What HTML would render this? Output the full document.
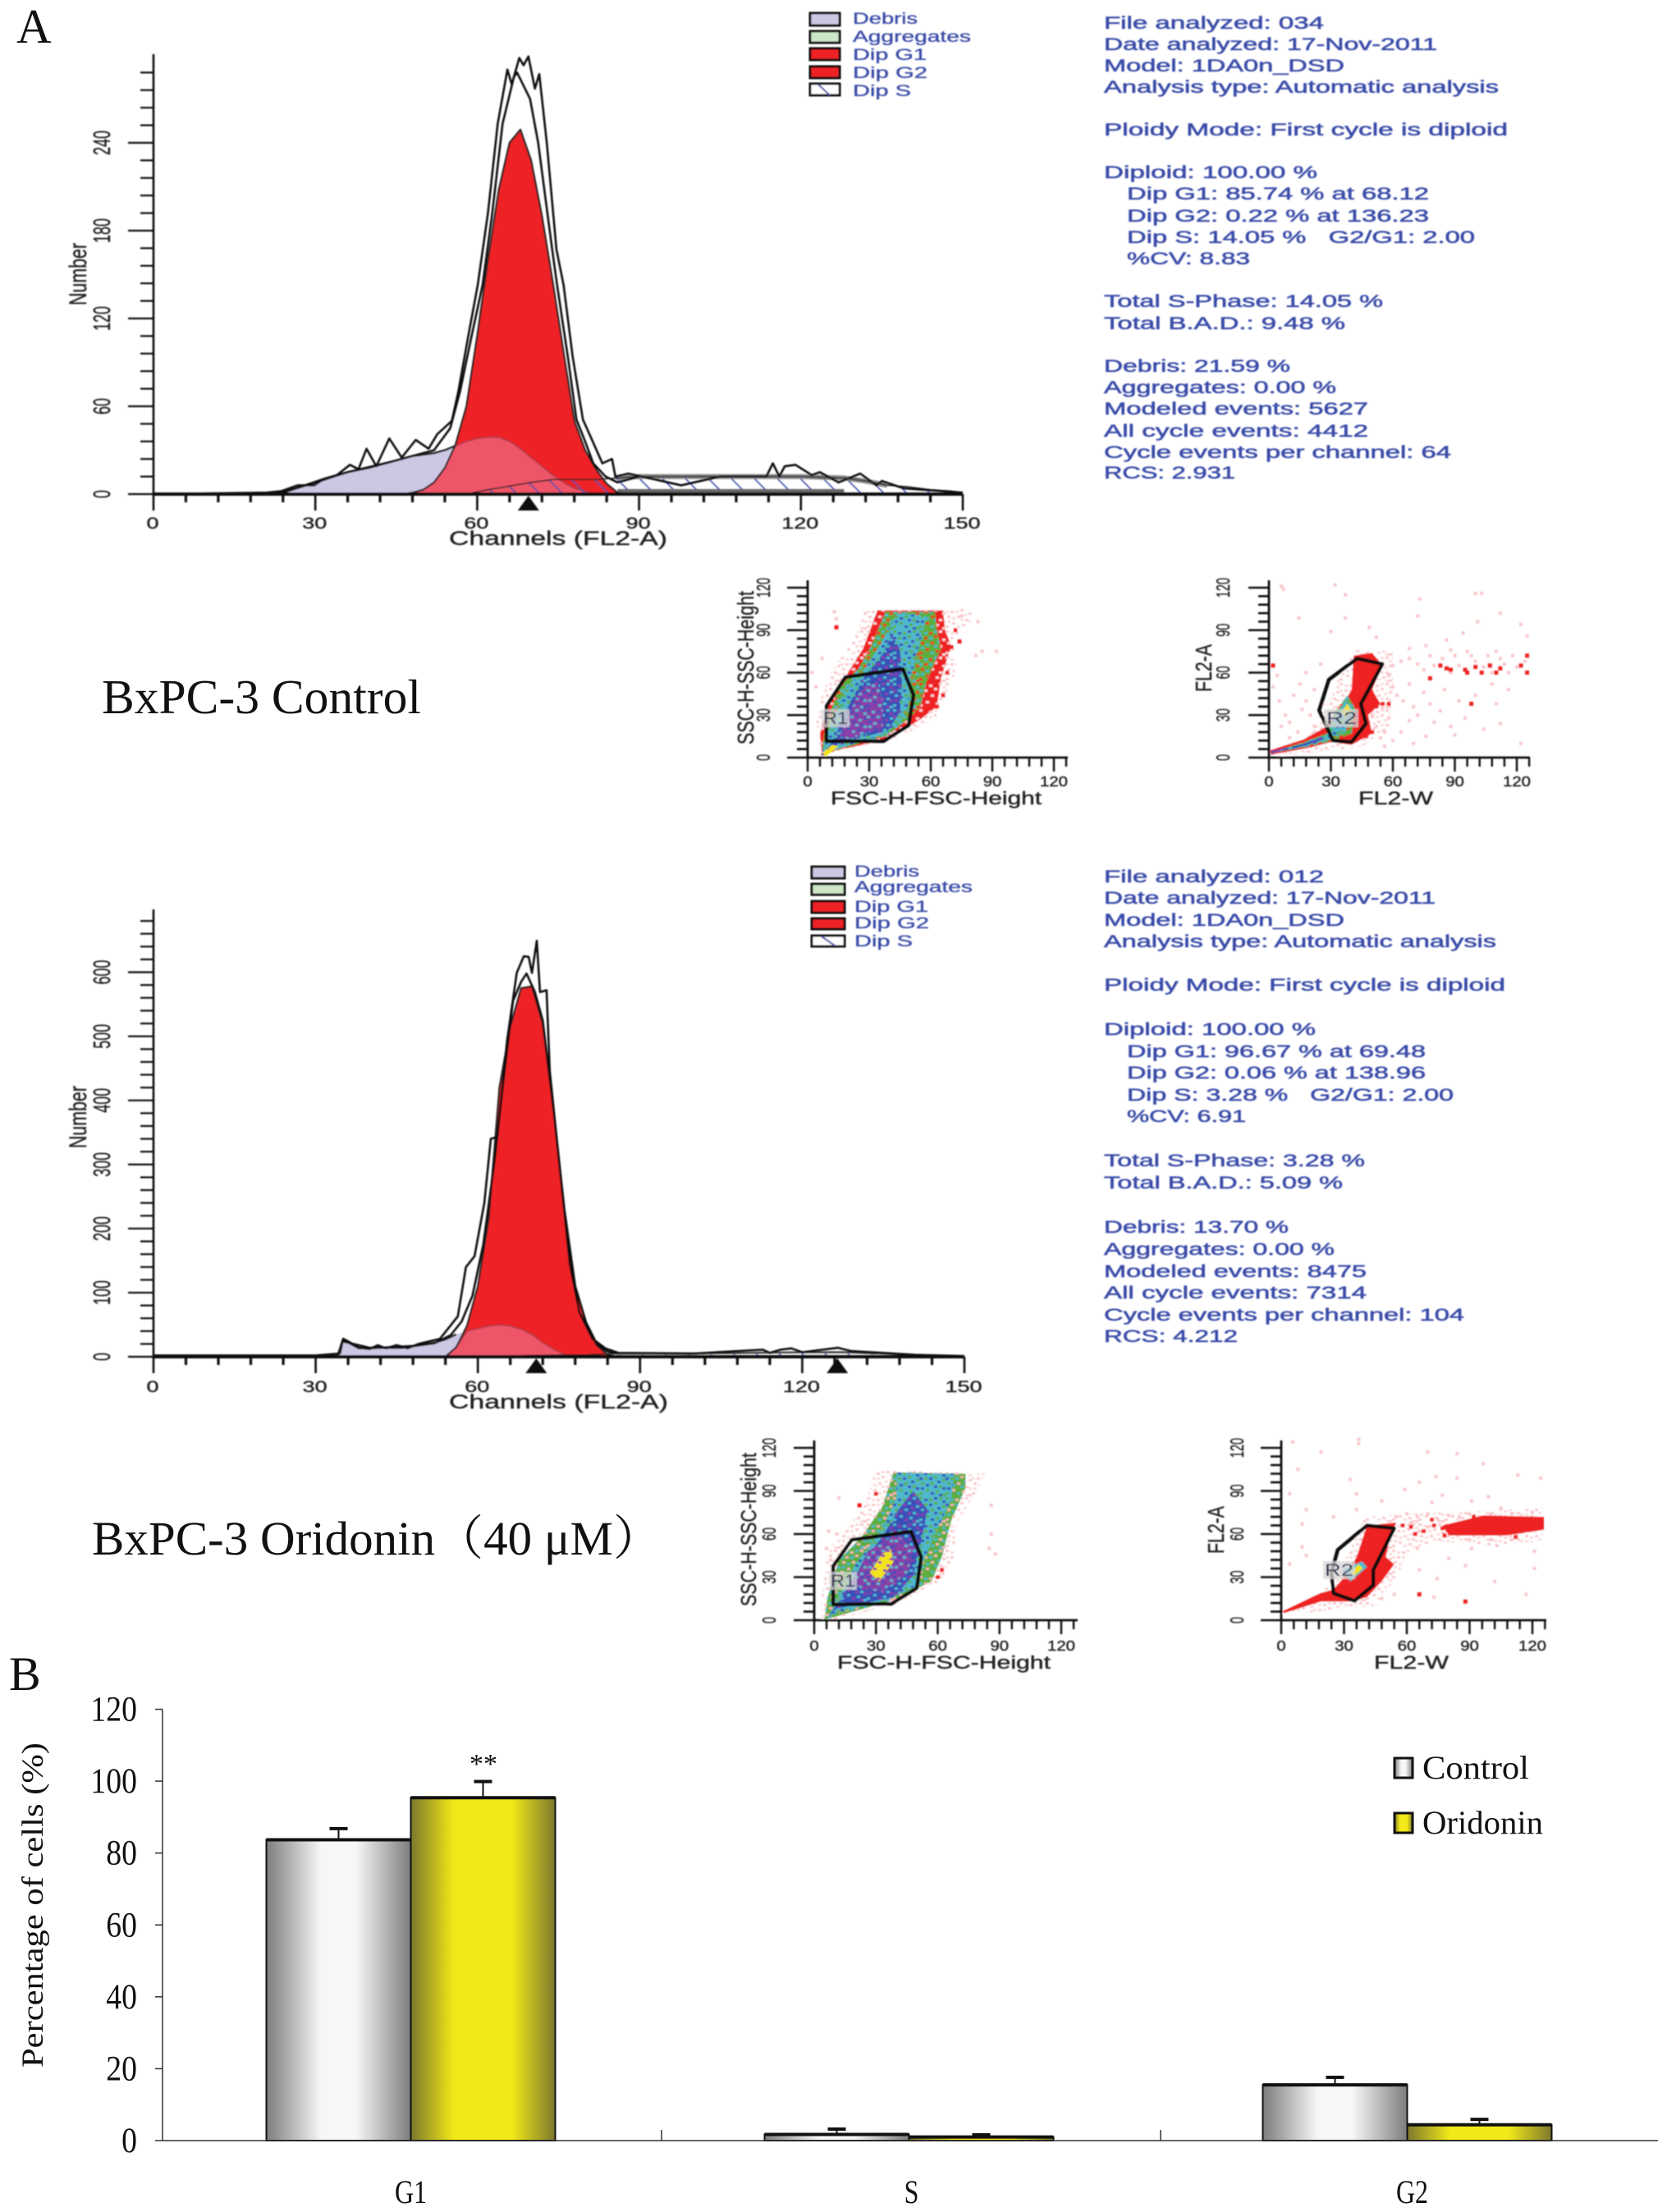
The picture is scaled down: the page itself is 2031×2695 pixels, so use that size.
<!DOCTYPE html>
<html lang="en">
<head>
<meta charset="utf-8">
<title>BxPC-3 cell cycle analysis</title>
<style>
html,body{margin:0;padding:0;background:#fff}
svg{display:block}
.serif{font-family:"Liberation Serif","Noto Serif CJK SC",serif;fill:#111}
.sans{font-family:"Liberation Sans",sans-serif;fill:#222;stroke:#222;stroke-width:.4}
.report text{font-family:"Liberation Sans",sans-serif;font-size:21px;fill:#3a4ca8;stroke:#3a4ca8;stroke-width:.55}
.legend-text{font-family:"Liberation Sans",sans-serif;font-size:19px;fill:#3a4ca8;stroke:#3a4ca8;stroke-width:.35}
</style>
</head>
<body>
<svg id="figure" xmlns="http://www.w3.org/2000/svg" width="2031" height="2695" viewBox="0 0 2031 2695">
<defs id="defs">
<filter id="soft" x="-5%" y="-5%" width="110%" height="110%"><feGaussianBlur stdDeviation="0.8"/></filter>
<pattern id="hatch" patternUnits="userSpaceOnUse" width="28" height="28"><path d="M-7 -7L35 35M-35 -7L7 35M21 -7L63 35" stroke="#3f4fa8" stroke-width="1.6"/></pattern>
<linearGradient id="grayBar" x1="0" x2="1" y1="0" y2="0"><stop offset="0" stop-color="#7d7d7d"/><stop offset=".38" stop-color="#f7f7f7"/><stop offset=".62" stop-color="#f7f7f7"/><stop offset="1" stop-color="#7d7d7d"/></linearGradient>
<linearGradient id="yellowBar" x1="0" x2="1" y1="0" y2="0"><stop offset="0" stop-color="#7c782c"/><stop offset=".3" stop-color="#f3e918"/><stop offset=".7" stop-color="#f3e918"/><stop offset="1" stop-color="#7c782c"/></linearGradient>
</defs>

<rect width="2031" height="2695" fill="#fff"/>

<text class="serif" x="20" y="52" font-size="59">A</text>
<text class="serif" x="11" y="2059" font-size="58">B</text>
<text class="serif" x="124" y="869" font-size="59" textLength="389" lengthAdjust="spacingAndGlyphs">BxPC-3 Control</text>
<text class="serif" x="112" y="1894" font-size="58" textLength="694" lengthAdjust="spacingAndGlyphs">BxPC-3 Oridonin（40 μM）</text>

<g id="soft1" filter="url(#soft)">
  <g id="hist1"></g>
  <g id="hist2"></g>
  <g id="scatterA1"></g>
  <g id="scatterA2"></g>
  <g id="scatterB1"></g>
  <g id="scatterB2"></g>

  <text class="sans" x="547" y="664" font-size="24" textLength="266" lengthAdjust="spacingAndGlyphs">Channels (FL2-A)</text>
  <text class="sans" x="547" y="1716" font-size="24" textLength="267" lengthAdjust="spacingAndGlyphs">Channels (FL2-A)</text>
  <text class="sans" transform="translate(105 372) rotate(-90)" font-size="30" textLength="76" lengthAdjust="spacingAndGlyphs">Number</text>
  <text class="sans" transform="translate(105 1399) rotate(-90)" font-size="30" textLength="76" lengthAdjust="spacingAndGlyphs">Number</text>

  <text class="sans" x="1012" y="980" font-size="22" textLength="257" lengthAdjust="spacingAndGlyphs">FSC-H-FSC-Height</text>
  <text class="sans" x="1655" y="980" font-size="22" textLength="91" lengthAdjust="spacingAndGlyphs">FL2-W</text>
  <text class="sans" x="1020" y="2033" font-size="22" textLength="260" lengthAdjust="spacingAndGlyphs">FSC-H-FSC-Height</text>
  <text class="sans" x="1674" y="2033" font-size="22" textLength="91" lengthAdjust="spacingAndGlyphs">FL2-W</text>
  <text class="sans" transform="translate(918 907) rotate(-90)" font-size="28" textLength="187" lengthAdjust="spacingAndGlyphs">SSC-H-SSC-Height</text>
  <text class="sans" transform="translate(1476 843) rotate(-90)" font-size="28" textLength="58" lengthAdjust="spacingAndGlyphs">FL2-A</text>
  <text class="sans" transform="translate(921 1957) rotate(-90)" font-size="26" textLength="187" lengthAdjust="spacingAndGlyphs">SSC-H-SSC-Height</text>
  <text class="sans" transform="translate(1491 1893) rotate(-90)" font-size="28" textLength="58" lengthAdjust="spacingAndGlyphs">FL2-A</text>

  <g class="report">
    <text x="1345" y="35" textLength="268" lengthAdjust="spacingAndGlyphs">File analyzed: 034</text>
    <text x="1345" y="61" textLength="406" lengthAdjust="spacingAndGlyphs">Date analyzed: 17-Nov-2011</text>
    <text x="1345" y="87" textLength="293" lengthAdjust="spacingAndGlyphs">Model: 1DA0n_DSD</text>
    <text x="1345" y="113" textLength="481" lengthAdjust="spacingAndGlyphs">Analysis type: Automatic analysis</text>
    <text x="1345" y="165" textLength="492" lengthAdjust="spacingAndGlyphs">Ploidy Mode: First cycle is diploid</text>
    <text x="1345" y="217" textLength="260" lengthAdjust="spacingAndGlyphs">Diploid: 100.00 %</text>
    <text x="1373" y="243" textLength="368" lengthAdjust="spacingAndGlyphs">Dip G1: 85.74 % at 68.12</text>
    <text x="1373" y="270" textLength="368" lengthAdjust="spacingAndGlyphs">Dip G2: 0.22 % at 136.23</text>
    <text x="1373" y="296" textLength="424" lengthAdjust="spacingAndGlyphs">Dip S: 14.05 % &#160;&#160;G2/G1: 2.00</text>
    <text x="1373" y="322" textLength="150" lengthAdjust="spacingAndGlyphs">%CV: 8.83</text>
    <text x="1345" y="374" textLength="340" lengthAdjust="spacingAndGlyphs">Total S-Phase: 14.05 %</text>
    <text x="1345" y="401" textLength="294" lengthAdjust="spacingAndGlyphs">Total B.A.D.: 9.48 %</text>
    <text x="1345" y="453" textLength="227" lengthAdjust="spacingAndGlyphs">Debris: 21.59 %</text>
    <text x="1345" y="479" textLength="283" lengthAdjust="spacingAndGlyphs">Aggregates: 0.00 %</text>
    <text x="1345" y="505" textLength="322" lengthAdjust="spacingAndGlyphs">Modeled events: 5627</text>
    <text x="1345" y="532" textLength="322" lengthAdjust="spacingAndGlyphs">All cycle events: 4412</text>
    <text x="1345" y="558" textLength="423" lengthAdjust="spacingAndGlyphs">Cycle events per channel: 64</text>
    <text x="1345" y="583" textLength="160" lengthAdjust="spacingAndGlyphs">RCS: 2.931</text>
  </g>
  <g class="report">
    <text x="1345" y="1075" textLength="268" lengthAdjust="spacingAndGlyphs">File analyzed: 012</text>
    <text x="1345" y="1101" textLength="404" lengthAdjust="spacingAndGlyphs">Date analyzed: 17-Nov-2011</text>
    <text x="1345" y="1128" textLength="293" lengthAdjust="spacingAndGlyphs">Model: 1DA0n_DSD</text>
    <text x="1345" y="1154" textLength="478" lengthAdjust="spacingAndGlyphs">Analysis type: Automatic analysis</text>
    <text x="1345" y="1207" textLength="489" lengthAdjust="spacingAndGlyphs">Ploidy Mode: First cycle is diploid</text>
    <text x="1345" y="1261" textLength="258" lengthAdjust="spacingAndGlyphs">Diploid: 100.00 %</text>
    <text x="1373" y="1288" textLength="364" lengthAdjust="spacingAndGlyphs">Dip G1: 96.67 % at 69.48</text>
    <text x="1373" y="1314" textLength="364" lengthAdjust="spacingAndGlyphs">Dip G2: 0.06 % at 138.96</text>
    <text x="1373" y="1341" textLength="398" lengthAdjust="spacingAndGlyphs">Dip S: 3.28 % &#160;&#160;G2/G1: 2.00</text>
    <text x="1373" y="1367" textLength="145" lengthAdjust="spacingAndGlyphs">%CV: 6.91</text>
    <text x="1345" y="1421" textLength="318" lengthAdjust="spacingAndGlyphs">Total S-Phase: 3.28 %</text>
    <text x="1345" y="1448" textLength="291" lengthAdjust="spacingAndGlyphs">Total B.A.D.: 5.09 %</text>
    <text x="1345" y="1502" textLength="225" lengthAdjust="spacingAndGlyphs">Debris: 13.70 %</text>
    <text x="1345" y="1529" textLength="281" lengthAdjust="spacingAndGlyphs">Aggregates: 0.00 %</text>
    <text x="1345" y="1556" textLength="320" lengthAdjust="spacingAndGlyphs">Modeled events: 8475</text>
    <text x="1345" y="1582" textLength="320" lengthAdjust="spacingAndGlyphs">All cycle events: 7314</text>
    <text x="1345" y="1609" textLength="439" lengthAdjust="spacingAndGlyphs">Cycle events per channel: 104</text>
    <text x="1345" y="1635" textLength="163" lengthAdjust="spacingAndGlyphs">RCS: 4.212</text>
  </g>

  <g transform="translate(-3 0)">
    <rect x="990" y="16" width="36" height="15" fill="#ccc8e4" stroke="#111" stroke-width="3"/>
    <rect x="990" y="38" width="36" height="14" fill="#cde6c8" stroke="#111" stroke-width="3"/>
    <rect x="990" y="59" width="36" height="14" fill="#ee2026" stroke="#111" stroke-width="3"/>
    <rect x="990" y="81" width="36" height="14" fill="#ee2026" stroke="#111" stroke-width="3"/>
    <rect x="990" y="102" width="36" height="14" fill="#fff" stroke="#111" stroke-width="3"/>
    <path d="M1000 103L1014 116" stroke="#3f4fa8" stroke-width="2"/>
    <text class="legend-text" x="1042" y="29" textLength="79" lengthAdjust="spacingAndGlyphs">Debris</text>
    <text class="legend-text" x="1042" y="51" textLength="144" lengthAdjust="spacingAndGlyphs">Aggregates</text>
    <text class="legend-text" x="1042" y="73" textLength="90" lengthAdjust="spacingAndGlyphs">Dip G1</text>
    <text class="legend-text" x="1042" y="95" textLength="91" lengthAdjust="spacingAndGlyphs">Dip G2</text>
    <text class="legend-text" x="1042" y="117" textLength="71" lengthAdjust="spacingAndGlyphs">Dip S</text>
  </g>
  <g transform="translate(-3 0)">
    <rect x="992" y="1056" width="40" height="14" fill="#ccc8e4" stroke="#111" stroke-width="3"/>
    <rect x="992" y="1077" width="40" height="13" fill="#cde6c8" stroke="#111" stroke-width="3"/>
    <rect x="992" y="1098" width="40" height="14" fill="#ee2026" stroke="#111" stroke-width="3"/>
    <rect x="992" y="1119" width="40" height="13" fill="#ee2026" stroke="#111" stroke-width="3"/>
    <rect x="992" y="1140" width="40" height="13" fill="#fff" stroke="#111" stroke-width="3"/>
    <path d="M1004 1141L1020 1152" stroke="#3f4fa8" stroke-width="2"/>
    <text class="legend-text" x="1044" y="1068" textLength="79" lengthAdjust="spacingAndGlyphs">Debris</text>
    <text class="legend-text" x="1044" y="1087" textLength="144" lengthAdjust="spacingAndGlyphs">Aggregates</text>
    <text class="legend-text" x="1044" y="1111" textLength="90" lengthAdjust="spacingAndGlyphs">Dip G1</text>
    <text class="legend-text" x="1044" y="1131" textLength="91" lengthAdjust="spacingAndGlyphs">Dip G2</text>
    <text class="legend-text" x="1044" y="1153" textLength="71" lengthAdjust="spacingAndGlyphs">Dip S</text>
  </g>
</g>

<g id="barChart">
  <text class="serif" transform="translate(52 2519) rotate(-90)" font-size="37" textLength="396" lengthAdjust="spacingAndGlyphs">Percentage of cells (%)</text>
  <text class="serif" x="589" y="2160" font-size="34" text-anchor="middle">**</text>
  <rect x="1699" y="2142" width="22" height="24" fill="url(#grayBar)" stroke="#111" stroke-width="3"/>
  <rect x="1699" y="2209" width="22" height="24" fill="url(#yellowBar)" stroke="#111" stroke-width="3"/>
  <text class="serif" x="1733" y="2167" font-size="40" textLength="130" lengthAdjust="spacingAndGlyphs">Control</text>
  <text class="serif" x="1733" y="2234" font-size="40" textLength="147" lengthAdjust="spacingAndGlyphs">Oridonin</text>
</g>

<script>
/* ---------- control histogram values (channel, count) ---------- */
const modelChannels1 = [20,24,28,32,36,40,44,46,48,50,52,54,56,58,60,62,64,66,68,70,72,74,76,78,80,82,84,86,88];
const debrisCounts1 = [0,1,6,11,15,18,22,24,26,27,28,30,33,36,38,39,39,36,31,25,19,13,8,4,2,0,0,0,0];
const g1Counts1 = [0,0,0,0,0,0,0,0,1,3,8,18,34,60,108,160,208,240,249,228,190,145,97,50,30,17,7,1,0];
const sChannels1 = [58,62,66,70,74,78,82,86,90,100,110,120,128,132,136,140,144,148,150];
const sCounts1 = [0,3,5.5,8,10,10,10,11,12,12,12,12,11,9,6,5,3,2,1];
const rawChannels1 = [0,21,23.7,26.7,29.8,31,34,36.4,38,39.5,41.3,43.7,46,48.6,51,52.6,55.3,56.5,58.3,60.1,62,63.8,65.6,66.4,67.8,68.6,69.5,70.7,71.5,72.9,74.7,76,77.7,79.6,81.4,83.2,85,85.6,88,93,97.8,105,113.6,114.8,116,117,119,122,123.5,127,131,134,135,139,150];
const rawCounts1 = [0,1,2,6,6,9,13,20,17,31,19,38,25,37,31,41,50,70,107,143,192,253,290,280,298,293,299,277,287,240,167,143,94,51,36,21,24,12,14,10,6,12,12,21,12,19,20,13,15,8,14,6,9,4,1];
const fitChannels1 = [24,30,36,44,52,55,56.8,58.9,61,62.8,64.7,66.8,67.4,68.6,69.8,71.3,73.9,74.8,76.8,78.4,80,81.5,83.8,86,90];
const fitCounts1 = [1,8,15,22,30,45,70,107,143,192,253,285,288,279,270,240,167,143,94,51,36,21,12,8,12];
const markers1 = [69.5];
const hist1YTicks = [0,60,120,180,240];
const hist1XTicks = [0,30,60,90,120,150];

/* ---------- oridonin histogram values ---------- */
const modelChannels2 = [30,34,35,36,38,40,44,48,50,52,54,56,58,60,62,64,66,68,70,72,74,76,78,80,82,84,86];
const debrisCounts2 = [0,0,26,22,13,13,15,17,19,22,27,35,40,44,48,50,48,43,35,22,12,3,0,0,0,0,0];
const g1Counts2 = [0,0,0,0,0,0,0,0,0,0,0,15,48,110,215,420,515,575,578,520,385,230,110,52,18,3,0];
const sChannels2 = [60,70,80,86,100,110,120,128,134,140,150];
const sCounts2 = [0,2,3,5,5,6,7,7,5,3,1];
const rawChannels2 = [0,30,34.5,35.1,36,38,40,41.5,43,45,47,49,51,53,56.3,57.8,59.4,61.2,62.4,63.6,65.4,67.2,68.5,69.4,70,70.9,71.5,72.7,73.3,75.1,77,78.8,81.2,83.6,86,100,112.7,114,116,118,120,126.6,129,133,141,150];
const rawCounts2 = [2,2,5,28,24,14,12,18,13,18,13,20,24,28,63,140,157,240,340,343,493,599,625,624,599,649,569,572,446,298,145,69,28,13,6,5,11,6,11,13,7,14,9,7,3,1];
const fitChannels2 = [35,40,46,52,55,57,59,61,63,65,66.5,68,69,70.5,72,74,76,78,80,82,84,86];
const fitCounts2 = [24,14,14,21,34,55,95,175,300,450,555,585,598,570,525,385,230,110,54,20,8,5];
const markers2 = [70.8,126.5];
const hist2YTicks = [0,100,200,300,400,500,600];
const hist2XTicks = [0,30,60,90,120,150];

/* ---------- flow plot tick labels ---------- */
const flowTicks = [0,30,60,90,120];

/* ---------- density regions, in data units ---------- */
const a1Pale = [[5.6,3.5],[4.2,24.7],[5.6,40],[12.6,63],[22.5,83],[28,104],[78.7,105],[81,98],[70,83],[73,63],[66,40],[62,27],[42,13],[17,5.4]];
const a1Red = [[7,1.5],[6,17],[10,36],[18,56],[27,77],[34,104],[66,104],[67,90],[70,79],[65,56],[63,36],[55,27],[39,13],[14,5]];
const a1Green = [[7,5],[8.4,21],[15.4,50],[25,63],[31,79],[38,103],[62,103],[63,90],[65,77],[58,54],[55,36],[49,27],[38,15],[13,5]];
const a1Cyan = [[7,3],[11,21],[18,48],[28,63],[35,79],[43.5,102],[58,100],[55,83],[50.5,58],[49,36],[45,25],[36.5,16],[11,4.5]];
const a1Blue = [[8.4,2.5],[14,17],[21,40],[28,58],[36.5,73],[41,86.5],[45,77],[46,54],[45,32],[39,19],[20,12],[10,4.5]];
const a1Purple = [[15.4,15],[25,46],[34,54],[36.5,40],[36.5,21],[20,13]];
const a1Yellow = [[6,2],[12,9],[15,8],[9,1]];
const a1Gate = [[9.1,11.6],[9.1,36.5],[18.4,56.8],[46.4,62.6],[51.6,44.2],[49.2,22.6],[37,11.6]];
const a1PinkDots = [[85,75],[92,75],[13,103],[7,70],[14,98],[2,60],[4,50],[75,100],[83,96],[69,76],[82,72]];
const a1RedDots = [[70,78],[68,60],[66,44],[63,36],[72,90],[74,82],[14,92]];

const a2Pale = [[0,4],[20,16],[26,30],[35,60],[42,76],[60,75],[60,50],[58,20],[45,8],[25,4],[5,1]];
const a2Red = [[0.5,5],[17,13],[28,22],[36,38],[40,48],[41,72],[50,74],[55,65],[50,48],[54,38],[48,30],[50,17],[40,9],[30,11],[20,7],[1,2]];
const a2Green = [[1,4],[15,10],[28,17],[32,32],[38,44],[42,34],[40,17],[31,12],[20,8],[1,3]];
const a2Cyan = [[1,4],[15,9],[28,16],[33,32],[38,42],[41,32],[37,18],[30,13],[15,7]];
const a2Blue = [[1,4.5],[15,9],[27,15],[27,13],[14,7],[1,3]];
const a2Yellow = [[35,32],[38,38],[40,33],[37,29]];
const a2Gate = [[31,12],[40,11],[47,24],[44.5,38],[55,66],[42.7,70],[29,55],[24.3,33.4]];
const a2PinkDots = [[6,121],[7,119],[32,122],[37,115],[14.5,98.5],[37,98.5],[30,89],[52,85],[48.6,92],[73,112],[72,100],[100,116],[103,116],[112,102],[101,96],[122,94],[94,88],[125,86],[86,83],[68,77],[76,79],[60,65],[64,68],[68,70],[72,66],[75,62],[78,72],[80,65],[84,70],[88,60],[90,72],[92,65],[95,62],[98,72],[100,68],[104,64],[106,72],[108,60],[112,70],[114,66],[116,60],[118,72],[120,64],[124,68],[88,76],[96,75],[110,75],[58,58],[60,50],[62,44],[65,40],[68,52],[70,36],[72,30],[75,46],[78,38],[80,25],[83,33],[85,48],[88,22],[90,16],[92,40],[95,28],[100,44],[104,20],[108,52],[110,38],[112,24],[122,10],[116,48],[68,26],[64,18],[60,12],[56,8],[76,15],[70,10],[5,40],[8,30],[10,25],[12,44],[15,52],[18,40],[20,30],[22,22],[14,18],[6,22],[10,14],[2,50],[4,58],[18,60],[25,66],[22,48],[16,34],[26,38],[50,30],[52,22],[55,35],[58,28],[56,18],[54,14]];
const a2RedDots = [[2,65],[78,56],[83,65],[86,63],[88,62],[95,62],[96,60],[100,64],[103,60],[107,65],[110,60],[112,63],[122,65],[125,72],[125,60],[98,38],[50,40],[52,36],[55,38],[58,38],[47,55],[48,22],[50,18],[47,15]];

const b1Pale = [[3.6,0.6],[3.6,16],[6.4,48],[24.6,80],[30,105],[83,102],[80,92],[69,67],[68,44],[61,27],[41,12],[10.6,0.6]];
const b1Green = [[5,0.6],[6.4,16],[12,42],[23,58],[33,79],[38.5,103],[73.5,102],[73.5,92],[66.5,69],[62,44],[57,27],[38.5,14],[10.6,2.5]];
const b1Cyan = [[6,0.6],[10.6,12],[20,39],[33,63],[40,86],[40,103],[68,102],[66.5,84],[58,58],[52.5,39],[51,25],[37,15],[9,4.4]];
const b1Blue = [[6.4,1.5],[13.4,16],[23,39],[33,58],[41,77],[48,90],[55,77],[51,48],[48,31],[38.5,16],[10.6,8]];
const b1Purple = [[19,27],[26,48],[40,60],[48,50],[45.5,33],[33,20],[23,21.5]];
const b1Yellow = [[27,33],[33,46],[37,50],[38.5,40.6],[31.5,27]];
const b1Gate = [[9.2,10.9],[9.2,37.7],[18.3,56],[47,61.7],[52,44],[49.8,22.3],[37.5,11.4]];
const b1PinkDots = [[12,85],[11,60],[7,62],[86,80],[86,60],[85,50],[88,46],[6,50],[8,42],[10,38]];
const b1RedDots = [[22,80],[30,88],[62,35],[60,30]];

const b2Pale = [[0,4],[20,20],[30,40],[40,72],[60,74],[125,78],[125,55],[100,52],[75,55],[62,50],[55,30],[45,10],[30,8],[10,5]];
const b2Red = [[0.5,6],[19,19],[25,21.5],[30,30],[36,44],[41,66],[55,68],[52,58],[50,44],[54,39],[48,27],[41,16],[33,13],[19,13],[1.4,5]];
const b2Band = [[77,66],[96.5,73],[125.5,72],[125.5,63],[107.6,59],[80,59]];
const b2Cyan = [[29,35],[38.6,41],[41,37],[33,27]];
const b2Yellow = [[33,33],[37,39],[39,36],[35,31]];
const b2Gate = [[25,18.7],[35,13.5],[44,24.4],[44,35],[54,64],[41,66],[27,49],[24,33]];
const b2PinkDots = [[5.5,124],[37,123],[37,126],[19,117],[8,105],[70,117],[84,116],[96.5,109],[113,101],[124,99],[84,99],[66,96],[74,100],[33,98],[4,88],[36,88],[59,91],[77,87],[91,83],[99,86],[105,78],[72,82],[12,77],[36,77],[48,83],[25,72],[10,67],[10,51],[12,45],[4,39],[65,50],[80,43],[91,50],[103,52],[121,48],[88,38],[66,35],[74.5,29],[102,27],[121,36],[66,18],[73,16],[117,18],[88,13],[54,18],[48,15],[55,72],[60,74],[65,72],[70,74],[75,70],[80,73],[85,72],[90,74],[100,74],[110,74],[120,75],[70,65],[66,62],[62,68],[110,56],[100,56],[90,56]];
const b2RedDots = [[58,66],[62,65],[64,60],[68,62],[72,70],[73,66],[77,64],[78,59],[88,13],[66,18],[92,72],[112,58]];

/* ---------- bar chart values ---------- */
const barCategories = ['G1','S','G2'];
const controlValues = [83.7,1.7,15.5];
const oridoninValues = [95.4,1.0,4.4];
const controlErrors = [3.1,1.5,2.1];
const oridoninErrors = [4.5,0.6,1.5];
const barYTicks = [0,20,40,60,80,100,120];

/* ---------- helpers ---------- */
const NS = 'http://www.w3.org/2000/svg';
function add(parent, tag, name, attrs, text) {
  const el = document.createElementNS(NS, tag);
  
  
  for (const k in attrs) el.setAttribute(k, attrs[k]);
  if (text !== undefined) el.textContent = text;
  parent.appendChild(el);
  return el;
}
function byId(id) { return document.getElementById(id); }
function linear(d0, d1, r0, r1) { return v => r0 + (v - d0) * (r1 - r0) / (d1 - d0); }
function pts(xs, ys, sx, sy) { return xs.map((x, i) => sx(x).toFixed(1) + ',' + sy(ys[i]).toFixed(1)).join(' '); }
function area(xs, ys, sx, sy) {
  return sx(xs[0]).toFixed(1) + ',' + sy(0).toFixed(1) + ' ' + pts(xs, ys, sx, sy) + ' ' + sx(xs[xs.length - 1]).toFixed(1) + ',' + sy(0).toFixed(1);
}
function poly(g, name, pairs, sx, sy, fill, extra) {
  const attrs = { points: pairs.map(p => sx(p[0]).toFixed(1) + ',' + sy(p[1]).toFixed(1)).join(' '), fill: fill };
  if (extra) Object.assign(attrs, extra);
  return add(g, 'polygon', name, attrs);
}
function tickLabel(g, name, text, x, y, size, sx, rotate, anchor) {
  const tr = 'translate(' + x + ' ' + y + ')' + (rotate ? ' rotate(-90)' : '') + ' scale(' + sx + ' 1)';
  return add(g, 'text', name, { transform: tr, 'font-size': size, 'text-anchor': anchor || 'middle', 'font-family': '"Liberation Sans",sans-serif', fill: '#222', stroke: '#222', 'stroke-width': 0.4 }, text);
}

/* ---------- speckle textures for the flow-density regions ---------- */
const speckleCellsA = [[0,0],[12,2],[24,0],[6,8],[18,6],[28,10],[2,14],[14,14],[24,18],[8,22],[20,24],[0,26],[28,28]];
const speckleCellsB = [[6,2],[18,0],[28,4],[0,8],[12,8],[22,12],[8,16],[18,18],[28,20],[2,20],[14,26],[24,28]];
const PALE = '#f9c6ca', RED = '#ee2224', GREEN = '#5cae3e', CYAN = '#4fb8cc', BLUE = '#3a50b8', PURPLE = '#8a3fa8', YELLOW = '#f2e21e';
function speckle(id, base, colorA, colorB) {
  const p = add(byId('defs'), 'pattern', 'speckle-texture', { id: id, patternUnits: 'userSpaceOnUse', width: 32, height: 32 });
  add(p, 'rect', 'speckle-base', { width: 32, height: 32, fill: base });
  speckleCellsA.forEach(c => add(p, 'rect', 'speckle-cell', { x: c[0], y: c[1], width: 4, height: 3, fill: colorA }));
  speckleCellsB.forEach(c => add(p, 'rect', 'speckle-cell', { x: c[0], y: c[1], width: 4, height: 3, fill: colorB }));
}
speckle('pPale', '#ffffff', PALE, '#fbd9dc');
speckle('pRed', RED, '#fbd0d4', RED);
speckle('pGreen', GREEN, RED, CYAN);
speckle('pGreen2', GREEN, '#f6b0b4', CYAN);
speckle('pCyan', CYAN, GREEN, BLUE);
speckle('pBlue', BLUE, CYAN, PURPLE);
speckle('pPurple', PURPLE, BLUE, CYAN);
speckle('pYellow', YELLOW, PURPLE, YELLOW);

/* ---------- histogram ---------- */
function histogram(g, o) {
  const sx = linear(0, 150, o.x0, o.x1), sy = linear(0, o.yRef, o.y0, o.yRefPx);
  add(g, 'polygon', 'debris-area', { points: area(o.mc, o.debris, sx, sy), fill: '#ccc8e4' });
  add(g, 'polygon', 'dip-g1-area', { points: area(o.mc, o.g1, sx, sy), fill: '#ee2026' });
  const overlap = o.debris.map((d, i) => Math.min(d, o.g1[i]));
  add(g, 'polygon', 'debris-g1-overlap', { points: area(o.mc, overlap, sx, sy), fill: '#ee5468' });
  add(g, 'polyline', 'debris-g1-overlap-edge', { points: pts(o.mc, overlap, sx, sy), fill: 'none', stroke: '#a83a48', 'stroke-width': 1.5 });
  add(g, 'polygon', 'dip-s-area', { points: area(o.sc, o.s, sx, sy), fill: 'url(#hatch)' });
  const bandXs = o.sc.filter(c => c >= 85 && c <= 136), bandYs = o.s.filter((v, i) => o.sc[i] >= 85 && o.sc[i] <= 136);
  add(g, 'polyline', 'dip-s-band', { points: pts(bandXs, bandYs, sx, sy), fill: 'none', stroke: '#888', 'stroke-width': o.band });
  if (o.band > 4) add(g, 'line', 'dip-s-base-band', { x1: sx(86), x2: sx(128), y1: sy(2), y2: sy(2), stroke: '#666', 'stroke-width': 5 });
  add(g, 'polyline', 'dip-s-edge', { points: pts(o.sc, o.s, sx, sy), fill: 'none', stroke: '#222', 'stroke-width': 1.5 });
  add(g, 'polyline', 'debris-edge', { points: pts(o.mc, o.debris, sx, sy).split(' ').slice(0, o.debrisEdge).join(' '), fill: 'none', stroke: '#222', 'stroke-width': 2.5 });
  add(g, 'polyline', 'dip-g1-edge', { points: pts(o.mc, o.g1, sx, sy), fill: 'none', stroke: '#222', 'stroke-width': 2.2, 'stroke-linejoin': 'round' });
  add(g, 'polyline', 'fit-line', { points: pts(o.fc, o.fit, sx, sy), fill: 'none', stroke: '#111', 'stroke-width': 2.6, 'stroke-linejoin': 'round' });
  add(g, 'polyline', 'raw-histogram-line', { points: pts(o.rc, o.raw, sx, sy), fill: 'none', stroke: '#111', 'stroke-width': 2.6, 'stroke-linejoin': 'round' });
  add(g, 'line', 'y-axis', { x1: o.x0, x2: o.x0, y1: o.yTop, y2: o.y0, stroke: '#111', 'stroke-width': 2.6 });
  add(g, 'line', 'x-axis', { x1: o.x0, x2: o.x1, y1: o.y0, y2: o.y0, stroke: '#111', 'stroke-width': 4 });
  const yStep = o.yTicks[1] / 5;
  for (let v = 0; v <= o.yMax + 0.001; v += yStep) {
    const major = o.yTicks.indexOf(Math.round(v)) >= 0;
    add(g, 'line', 'y-tick', { x1: o.x0 - (major ? 31 : 16), x2: o.x0, y1: sy(v), y2: sy(v), stroke: '#111', 'stroke-width': 2.2 });
  }
  o.yTicks.forEach(t => tickLabel(g, 'y-tick-label', String(t), 134, sy(t), 29, 0.62, true));
  for (let v = 0; v <= 150; v += 6) {
    const major = v % 30 === 0;
    add(g, 'line', 'x-tick', { x1: sx(v), x2: sx(v), y1: o.y0, y2: o.y0 + (major ? 20 : 10), stroke: '#111', 'stroke-width': major ? 2.6 : 3.2 });
  }
  o.xTicks.forEach(t => tickLabel(g, 'x-tick-label', String(t), sx(t) - 1, o.labelY, 19, 1.42, false));
  o.markers.forEach(m => {
    const x = sx(m), y = o.y0 + 2;
    add(g, 'polygon', 'peak-marker', { points: (x - 13) + ',' + (y + 18) + ' ' + x + ',' + y + ' ' + (x + 13) + ',' + (y + 18), fill: '#111' });
  });
}
histogram(byId('hist1'), { x0: 187, x1: 1173, y0: 602, yRef: 240, yRefPx: 174, yTop: 66, yMax: 288,
  mc: modelChannels1, debris: debrisCounts1, g1: g1Counts1, sc: sChannels1, s: sCounts1,
  rc: rawChannels1, raw: rawCounts1, fc: fitChannels1, fit: fitCounts1, markers: markers1,
  yTicks: hist1YTicks, xTicks: hist1XTicks, labelY: 644, debrisEdge: 13, band: 6 });
histogram(byId('hist2'), { x0: 187, x1: 1175, y0: 1653, yRef: 600, yRefPx: 1184.5, yTop: 1108, yMax: 680,
  mc: modelChannels2, debris: debrisCounts2, g1: g1Counts2, sc: sChannels2, s: sCounts2,
  rc: rawChannels2, raw: rawCounts2, fc: fitChannels2, fit: fitCounts2, markers: markers2,
  yTicks: hist2YTicks, xTicks: hist2XTicks, labelY: 1696, debrisEdge: 12, band: 3 });

/* ---------- flow plots ---------- */
function flowAxes(g, sx, sy, x0, y0, xEnd, yTop, yLabelX, xLabelY) {
  add(g, 'line', 'y-axis', { x1: x0, x2: x0, y1: yTop, y2: y0, stroke: '#111', 'stroke-width': 2.8 });
  add(g, 'line', 'x-axis', { x1: x0, x2: xEnd, y1: y0, y2: y0, stroke: '#111', 'stroke-width': 2.8 });
  for (let v = 0; v <= 120; v += 6) {
    const major = v % 30 === 0;
    add(g, 'line', 'y-tick', { x1: x0 - (major ? 25 : 13), x2: x0, y1: sy(v), y2: sy(v), stroke: '#111', 'stroke-width': 2.6 });
  }
  for (let v = 0; sx(v) <= xEnd + 1; v += 6) {
    const major = v % 30 === 0;
    add(g, 'line', 'x-tick', { x1: sx(v), x2: sx(v), y1: y0, y2: y0 + (major ? 17 : 11), stroke: '#111', 'stroke-width': 2.4 });
  }
  flowTicks.forEach(t => {
    tickLabel(g, 'y-tick-label', String(t), yLabelX, sy(t), 23, 0.63, true);
    tickLabel(g, 'x-tick-label', String(t), sx(t), xLabelY, 18, 1.13, false);
  });
}
function dots(g, name, list, sx, sy, size, fill) {
  list.forEach(p => add(g, 'rect', name, { x: sx(p[0]) - size / 2, y: sy(p[1]) - size / 2, width: size, height: size, fill: fill }));
}
function gate(g, list, sx, sy) {
  poly(g, 'gate-polygon', list, sx, sy, 'none', { stroke: '#111', 'stroke-width': 4.5, 'stroke-linejoin': 'round' });
}
function gateLabel(g, name, text, x, y, width) {
  add(g, 'rect', name + '-backing', { x: x - 2, y: y - 18, width: width + 4, height: 22, fill: '#d8d8d8', 'fill-opacity': 0.75 });
  add(g, 'text', name, { x: x, y: y, 'font-size': 21, textLength: width, lengthAdjust: 'spacingAndGlyphs', 'font-family': '"Liberation Sans",sans-serif', fill: '#2a2a50' }, text);
}

(function () {
  const g = byId('scatterA1');
  const sx = linear(0, 120, 984, 1284), sy = linear(0, 120, 923, 716);
  poly(g, 'density-pale', a1Pale, sx, sy, 'url(#pPale)');
  dots(g, 'sparse-event', a1PinkDots, sx, sy, 4, PALE);
  poly(g, 'density-red', a1Red, sx, sy, 'url(#pRed)');
  dots(g, 'dense-event', a1RedDots, sx, sy, 5, RED);
  poly(g, 'density-green', a1Green, sx, sy, 'url(#pGreen)');
  poly(g, 'density-cyan', a1Cyan, sx, sy, 'url(#pCyan)');
  poly(g, 'density-blue', a1Blue, sx, sy, 'url(#pBlue)');
  poly(g, 'density-purple', a1Purple, sx, sy, 'url(#pPurple)');
  poly(g, 'density-yellow', a1Yellow, sx, sy, 'url(#pYellow)');
  gate(g, a1Gate, sx, sy);
  gateLabel(g, 'gate-label-r1', 'R1', 1003, 882, 30);
  flowAxes(g, sx, sy, 984, 923, 1301, 707, 938, 958);
})();
(function () {
  const g = byId('scatterA2');
  const sx = linear(0, 120, 1546, 1848), sy = linear(0, 120, 923, 716);
  poly(g, 'density-pale', a2Pale, sx, sy, 'url(#pPale)');
  dots(g, 'sparse-event', a2PinkDots, sx, sy, 4, PALE);
  poly(g, 'density-red', a2Red, sx, sy, RED);
  dots(g, 'dense-event', a2RedDots, sx, sy, 5, RED);
  poly(g, 'density-green', a2Green, sx, sy, 'url(#pGreen)');
  poly(g, 'density-cyan', a2Cyan, sx, sy, 'url(#pCyan)');
  poly(g, 'density-blue', a2Blue, sx, sy, 'url(#pBlue)');
  poly(g, 'density-yellow', a2Yellow, sx, sy, YELLOW);
  gate(g, a2Gate, sx, sy);
  gateLabel(g, 'gate-label-r2', 'R2', 1616, 882, 37);
  flowAxes(g, sx, sy, 1546, 923, 1864, 707, 1498, 958);
})();
(function () {
  const g = byId('scatterB1');
  const sx = linear(0, 120, 992, 1293), sy = linear(0, 120, 1974, 1764);
  poly(g, 'density-pale', b1Pale, sx, sy, 'url(#pPale)');
  dots(g, 'sparse-event', b1PinkDots, sx, sy, 4, PALE);
  dots(g, 'dense-event', b1RedDots, sx, sy, 5, RED);
  poly(g, 'density-green', b1Green, sx, sy, 'url(#pGreen2)');
  poly(g, 'density-cyan', b1Cyan, sx, sy, 'url(#pCyan)');
  poly(g, 'density-blue', b1Blue, sx, sy, 'url(#pBlue)');
  poly(g, 'density-purple', b1Purple, sx, sy, 'url(#pPurple)');
  poly(g, 'density-yellow', b1Yellow, sx, sy, 'url(#pYellow)');
  gate(g, b1Gate, sx, sy);
  gateLabel(g, 'gate-label-r1', 'R1', 1012, 1933, 30);
  flowAxes(g, sx, sy, 992, 1974, 1313, 1755, 945, 2011);
})();
(function () {
  const g = byId('scatterB2');
  const sx = linear(0, 120, 1561, 1867), sy = linear(0, 120, 1974, 1764);
  poly(g, 'density-pale', b2Pale, sx, sy, 'url(#pPale)');
  dots(g, 'sparse-event', b2PinkDots, sx, sy, 4, PALE);
  poly(g, 'density-red', b2Red, sx, sy, RED);
  poly(g, 'density-band', b2Band, sx, sy, RED);
  dots(g, 'dense-event', b2RedDots, sx, sy, 5, RED);
  poly(g, 'density-cyan', b2Cyan, sx, sy, CYAN);
  poly(g, 'density-yellow', b2Yellow, sx, sy, YELLOW);
  gate(g, b2Gate, sx, sy);
  gateLabel(g, 'gate-label-r2', 'R2', 1614, 1920, 35);
  flowAxes(g, sx, sy, 1561, 1974, 1884, 1755, 1515, 2011);
})();

/* ---------- bar chart ---------- */
(function () {
  const g = byId('barChart');
  const x0 = 198, xEnd = 2020, y0 = 2608, bw = 176;
  const sy = linear(0, 120, y0, 2082.5);
  const band = 607;
  const cx = i => 197 + band * (i + 0.5);
  function bar(name, i, side, v, err, fill) {
    const x = side === 0 ? cx(i) - bw : cx(i);
    add(g, 'line', name + '-error-stem', { x1: x + bw / 2, x2: x + bw / 2, y1: sy(v), y2: sy(v + err), stroke: '#111', 'stroke-width': 2 });
    add(g, 'rect', name + '-error-cap', { x: x + bw / 2 - 11, y: sy(v + err) - 2, width: 22, height: 4, fill: '#111' });
    add(g, 'rect', name, { x: x, y: sy(v), width: bw, height: y0 - sy(v), fill: fill, stroke: '#111', 'stroke-width': 2 });
    add(g, 'line', name + '-top', { x1: x, x2: x + bw, y1: sy(v), y2: sy(v), stroke: '#111', 'stroke-width': 4 });
  }
  barCategories.forEach((c, i) => {
    bar('bar-control-' + c.toLowerCase(), i, 0, controlValues[i], controlErrors[i], 'url(#grayBar)');
    bar('bar-oridonin-' + c.toLowerCase(), i, 1, oridoninValues[i], oridoninErrors[i], 'url(#yellowBar)');
    add(g, 'text', 'category-label', { transform: 'translate(' + (cx(i) + 3 * i) + ' 2684) scale(.8 1)', 'text-anchor': 'middle', 'font-size': 40, class: 'serif' }, c);
    if (i > 0) add(g, 'line', 'category-divider', { x1: x0 + 608 * i, x2: x0 + 608 * i, y1: y0 - 13, y2: y0, stroke: '#333', 'stroke-width': 1.5 });
  });
  add(g, 'line', 'bar-y-axis', { x1: x0, x2: x0, y1: sy(120), y2: y0, stroke: '#333', 'stroke-width': 1.5 });
  add(g, 'line', 'bar-x-axis', { x1: x0, x2: xEnd, y1: y0, y2: y0, stroke: '#333', 'stroke-width': 1.5 });
  barYTicks.forEach(t => {
    add(g, 'line', 'bar-y-tick', { x1: x0 - 9, x2: x0, y1: sy(t), y2: sy(t), stroke: '#333', 'stroke-width': 1.5 });
    add(g, 'text', 'bar-y-tick-label', { transform: 'translate(167 ' + (sy(t) + 14) + ') scale(.92 1.05)', 'text-anchor': 'end', 'font-size': 41, class: 'serif' }, String(t));
  });
})();
</script>
</svg>
</body>
</html>
